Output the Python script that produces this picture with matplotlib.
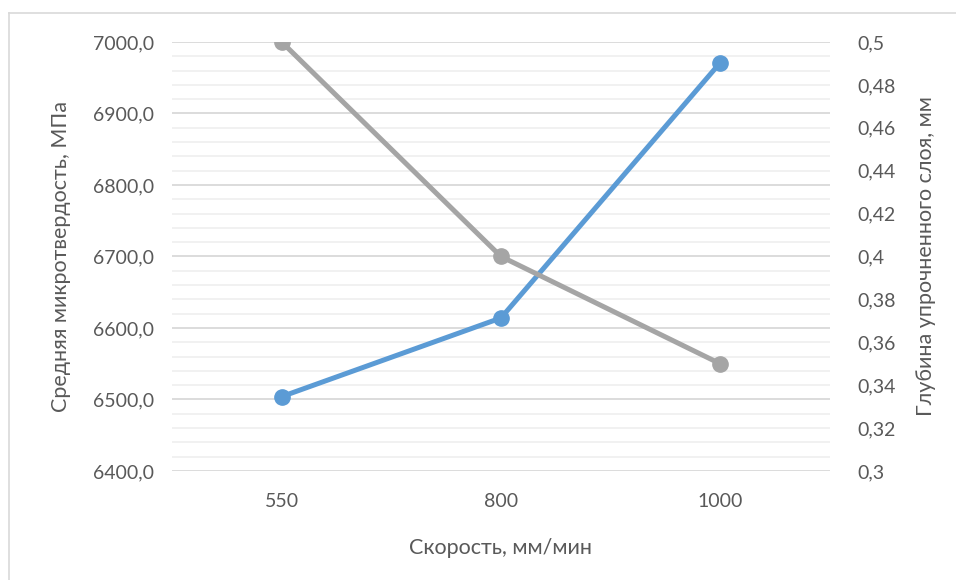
import matplotlib.pyplot as plt
from matplotlib.lines import Line2D
from matplotlib.ticker import MultipleLocator, FuncFormatter

plt.rcParams['font.family'] = ['Lato', 'Open Sans', 'DejaVu Sans']

# скорость, твердость и глубина слоя
speeds = ['550', '800', '1000']
hardness = [6504, 6614, 6971]
depth = [0.5, 0.4, 0.35]

text_color = '#595959'

fig = plt.figure(figsize=(9.56, 5.8), dpi=100)
ax = fig.add_axes([0.18, 0.188, 0.688, 0.7396])
ax2 = ax.twinx()

x = range(len(speeds))

# сетка по левой оси
ax.set_ylim(6400, 7000)
ax.yaxis.set_major_locator(MultipleLocator(100))
ax.yaxis.set_minor_locator(MultipleLocator(20))
ax.grid(which='major', axis='y', color='#d9d9d9', linewidth=1.3)
ax.grid(which='minor', axis='y', color='#f0f0f0', linewidth=1.3)
ax.set_axisbelow(True)

ax.plot(x, hardness, color='#5b9bd5', linewidth=3.6, marker='o',
        markersize=11, solid_capstyle='round', zorder=3)
ax2.plot(x, depth, color='#a5a5a5', linewidth=3.6, marker='o',
         markersize=11, solid_capstyle='round', zorder=3)

ax2.set_ylim(0.3, 0.5)
ax2.yaxis.set_major_locator(MultipleLocator(0.02))

ax.set_xlim(-0.5, len(speeds) - 0.5)
ax.set_xticks(list(x))
ax.set_xticklabels(speeds)

ax.yaxis.set_major_formatter(FuncFormatter(lambda v, p: f'{v:.1f}'.replace('.', ',')))
ax2.yaxis.set_major_formatter(FuncFormatter(
    lambda v, p: f'{round(v, 2):g}'.replace('.', ',')))

for a in (ax, ax2):
    for s in a.spines.values():
        s.set_visible(False)
    a.tick_params(which='both', length=0, labelsize=14, colors=text_color)

ax.tick_params(axis='y', pad=13)
ax2.tick_params(axis='y', pad=20)
ax.tick_params(axis='x', pad=16)

ax.set_xlabel('Скорость, мм/мин', fontsize=15.5, color=text_color, labelpad=20)
ax.set_ylabel('Средняя микротвердость, МПа', fontsize=15.5, color=text_color, labelpad=16)
ax2.set_ylabel('Глубина упрочненного слоя, мм', fontsize=15.5, color=text_color, labelpad=14)

# рамка области диаграммы
fig.add_artist(Line2D([8.5 / 956, 8.5 / 956], [0, 1 - 13 / 580], color='#d9d9d9', linewidth=1.2))
fig.add_artist(Line2D([8.5 / 956, 1], [1 - 13 / 580, 1 - 13 / 580], color='#d9d9d9', linewidth=1.2))

fig.savefig('out.png', dpi=100)
